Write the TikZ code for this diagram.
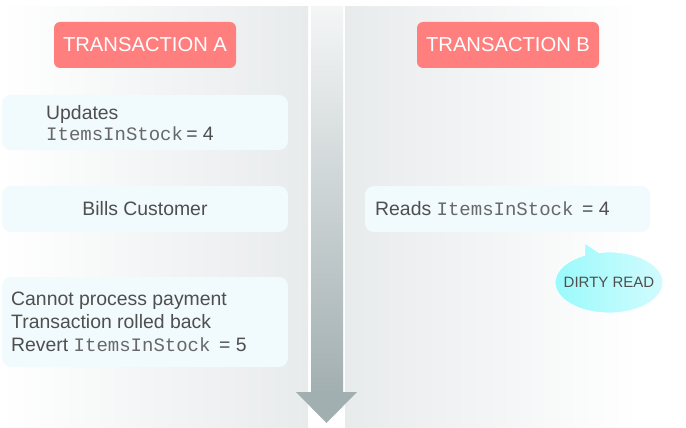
\documentclass[tikz,border=0pt]{standalone}
\usepackage{fontspec}
\setmainfont{Liberation Sans}
\setmonofont{Liberation Mono}
\usetikzlibrary{shapes.callouts}
\definecolor{panelgray}{HTML}{E8EBEC}
\definecolor{titlered}{HTML}{FF7F7F}
\definecolor{boxfill}{HTML}{F1FAFD}
\definecolor{txt}{HTML}{4F4F4F}
\definecolor{monotxt}{HTML}{686868}
\definecolor{arrowtop}{HTML}{F4F6F6}
\definecolor{arrowbot}{HTML}{A2AFB1}
\definecolor{cyanA}{HTML}{96FAFC}
\definecolor{cyanB}{HTML}{D2FBFD}
\tikzset{
  titlebox/.style={fill=titlered, rounded corners=6pt, minimum width=182pt, minimum height=46pt, text=white, font=\fontsize{20.2}{24}\selectfont, inner sep=0pt},
  stepbox/.style={fill=boxfill, rounded corners=9pt, inner sep=0pt},
  body/.style={text=txt, font=\fontsize{19.4}{23}\selectfont, inner sep=0pt, align=left},
}
\newcommand{\codeword}[1]{{\color{monotxt}\ttfamily\fontsize{19}{23}\selectfont #1}}
\begin{document}
\begin{tikzpicture}[x=1pt,y=-1pt]
\useasboundingbox (0,0) rectangle (686,428);
\fill[white] (0,0) rectangle (686,428);
% panels
\shade[left color=white, right color=panelgray] (0,7) rectangle (308,428);
\shade[left color=panelgray, right color=white] (345,7) rectangle (640,428);
% time arrow
\shade[top color=arrowtop, bottom color=arrowbot] (311,7) rectangle (343,393);
\fill[arrowbot] (296,392) -- (357,392) -- (326.5,423) -- cycle;
% titles
\node[titlebox] (ta) at (145,45) {TRANSACTION A};
\node[titlebox] (tb) at (508,45) {TRANSACTION B};
% transaction A steps
\node[stepbox, minimum width=286pt, minimum height=55pt] (a1) at (145,122.5) {};
\node[body, anchor=west] (a1t) at (46,123) {Updates\\[-2pt]\codeword{ItemsInStock}\,= 4};
\node[stepbox, minimum width=286pt, minimum height=46pt] (a2) at (145,209) {};
\node[body] (a2t) at (a2) {Bills Customer};
\node[stepbox, minimum width=286pt, minimum height=90pt] (a3) at (145,322) {};
\node[body, anchor=west] (a3t) at (11,322) {Cannot process payment\\Transaction rolled back\\Revert \codeword{ItemsInStock}\, = 5};
% transaction B step
\node[stepbox, minimum width=285pt, minimum height=46pt] (b1) at (507.5,209) {};
\node[body, anchor=west] (b1t) at (375,209) {Reads \codeword{ItemsInStock}\, = 4};
% dirty read callout
\coordinate (ptr) at (585,243);
\node[ellipse callout, callout absolute pointer={(ptr)}, callout pointer arc=16, left color=cyanA, right color=cyanB, draw=white, line width=0.8pt, minimum width=108pt, minimum height=61pt, inner xsep=-14pt, inner ysep=0pt, text=txt, font=\fontsize{15}{18}\selectfont] (dr) at (609,282.5) {DIRTY READ};
\end{tikzpicture}
\end{document}
